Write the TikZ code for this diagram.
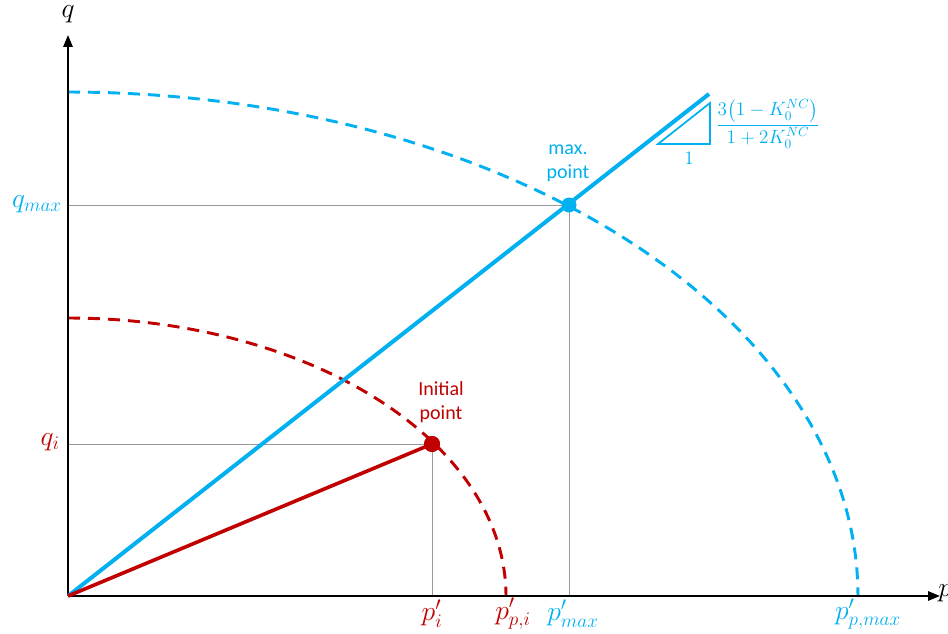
\documentclass[tikz,border=0pt]{standalone}
\usepackage{amsmath}
\usepackage{fontspec}
\setmainfont{Carlito}
\usetikzlibrary{arrows.meta}
\definecolor{cblue}{RGB}{0,176,240}
\definecolor{cred}{RGB}{192,0,0}
\begin{document}
\begin{tikzpicture}[x=0.75pt,y=-0.75pt,
  axis/.style={black, line width=1.5pt, -{Triangle[length=9pt,width=7pt]}},
  guide/.style={gray!80, line width=0.6pt},
  arcline/.style={line width=2.2pt, dash pattern=on 9pt off 6pt},
  blueline/.style={cblue, line width=3pt},
  redline/.style={cred, line width=2.7pt},
  dot/.style={circle, inner sep=0pt, minimum size=11pt},
  mlab/.style={font=\fontsize{20}{22}\selectfont},
  tlab/.style={font=\fontsize{15}{18}\selectfont, align=center}]
\useasboundingbox (0,0) rectangle (948,634);
% coordinates
\coordinate (O) at (68,596);
\coordinate (qtop) at (68,35);
\coordinate (pend) at (940,596);
\coordinate (Bend) at (709,94);
\coordinate (qmaxax) at (68,205);
\coordinate (qiax) at (68,444);
\coordinate (pmaxax) at (569,596);
\coordinate (piax) at (432,596);
% guides
\draw[guide] (qmaxax) -- (569,205) -- (pmaxax);
\draw[guide] (qiax) -- (432,444) -- (piax);
% arcs
\draw[arcline, cblue] plot[domain=90:0, samples=120] ({68+790*cos(\x)}, {596-504*sin(\x)});
\draw[arcline, cred] plot[domain=90:0, samples=120] ({68+438*cos(\x)}, {596-278*sin(\x)});
% axes
\draw[axis] (O) -- (qtop);
\draw[axis] (O) -- (pend);
% lines
\node[dot, fill=cblue] (M) at (569,205) {};
\node[dot, fill=cred, minimum size=12pt] (I) at (432,444) {};
\draw[blueline] (O) -- (Bend);
\draw[redline] (O) -- (I.center);
\node[dot, fill=cblue] at (M) {};
\node[dot, fill=cred, minimum size=12pt] at (I) {};
% slope triangle
\coordinate (t1) at (658,144);
\coordinate (t2) at (710,144);
\coordinate (t3) at (710,103);
\draw[cblue, line width=1.3pt] (t1) -- (t2) -- (t3) -- cycle;
\node[cblue, font=\fontsize{15}{17}\selectfont] (one) at (689,158) {$1$};
\node[cblue, font=\fontsize{14}{16}\selectfont] (frac) at (768,124) {$\dfrac{3\bigl(1-K_0^{NC}\bigr)}{1+2K_0^{NC}}$};
% text labels
\node[tlab, cblue] (maxpt) at (568,163) {max.\\point};
\node[tlab, cred] (inipt) at (441,402) {Initial\\point};
% axis labels
\node[mlab] (ql) at (68,14) {$q$};
\node[mlab, anchor=west, inner sep=0pt] (pl) at (938,593) {$p$};
\node[mlab, cblue, anchor=east, inner sep=0pt] (qmaxl) at (62,204) {$q_{max}$};
\node[mlab, cred, anchor=east, inner sep=0pt] (qil) at (60,442) {$q_i$};
\node[mlab, cred] (pil) at (432,614) {$p'_i$};
\node[mlab, cred] (ppil) at (513,614) {$p'_{p,i}$};
\node[mlab, cblue] (pmaxl) at (573,614) {$p'_{max}$};
\node[mlab, cblue] (ppmaxl) at (868,614) {$p'_{p,max}$};
\end{tikzpicture}
\end{document}
